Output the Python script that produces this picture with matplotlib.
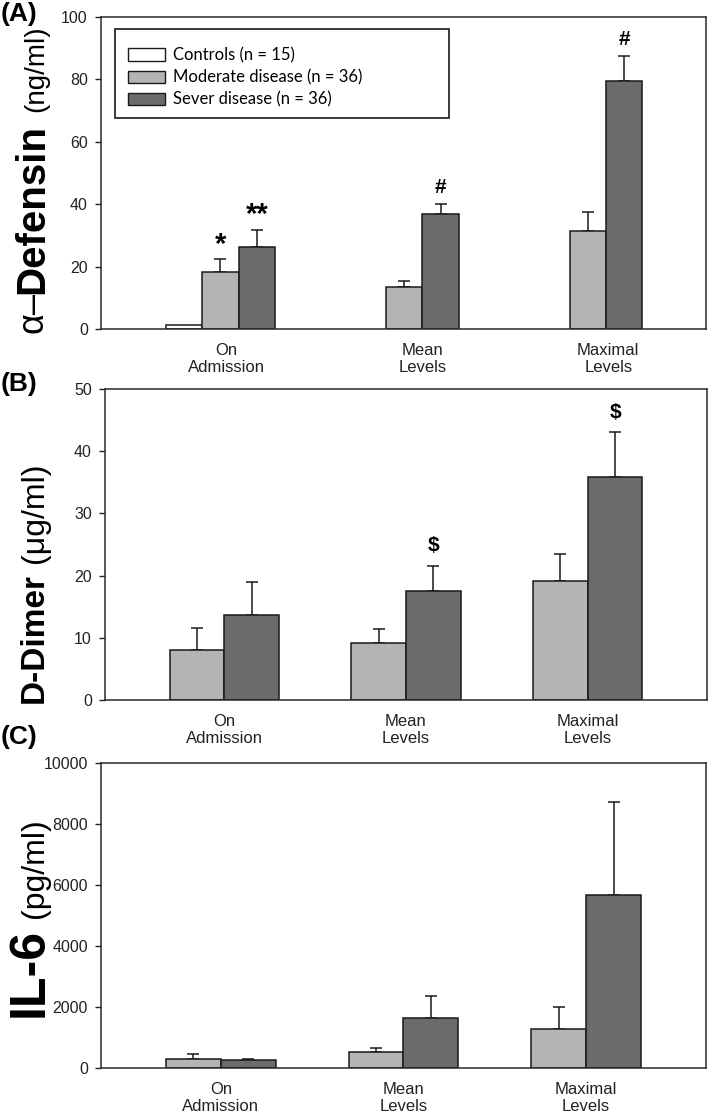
import numpy as np
import matplotlib
matplotlib.use("Agg")
import matplotlib.pyplot as plt
from matplotlib.patches import Patch, Rectangle

# ── data ───────────────────────────────────────────────────────────
GROUPS = ["On\nAdmission", "Mean\nLevels", "Maximal\nLevels"]
SERIES = ["Controls (n = 15)", "Moderate disease (n = 36)", "Sever disease (n = 36)"]

# (A) alpha-defensin, ng/ml
defensin_ctrl = [1.2, np.nan, np.nan]
defensin_mod = [18.2, 13.4, 31.4]
defensin_mod_err = [4.2, 2.1, 6.1]
defensin_sev = [26.3, 36.8, 79.4]
defensin_sev_err = [5.5, 3.2, 8.0]

# (B) D-dimer, ug/ml
ddimer_mod = [8.0, 9.1, 19.1]
ddimer_mod_err = [3.6, 2.3, 4.4]
ddimer_sev = [13.6, 17.6, 35.9]
ddimer_sev_err = [5.4, 4.0, 7.2]

# (C) IL-6, pg/ml
il6_mod = [295, 510, 1275]
il6_mod_err = [175, 155, 720]
il6_sev = [250, 1635, 5670]
il6_sev_err = [45, 730, 3065]

# significance marks: (group, series, y, symbol)
defensin_marks = [(0, 1, 27.0, "*"), (0, 2, 36.6, "**"), (1, 2, 45.3, "#"), (2, 2, 92.9, "#")]
ddimer_marks = [(1, 2, 24.8, "$"), (2, 2, 46.3, "$")]

COLORS = ["white", "#b4b4b4", "#6b6b6b"]
EDGE = "#1a1a1a"
W, H = 709, 1117

plt.rcParams["font.family"] = ["Liberation Sans", "DejaVu Sans"]


def px_axes(fig, left, top, right, bottom):
    return fig.add_axes([left / W, 1 - bottom / H, (right - left) / W, (bottom - top) / H])


def style(ax, ymax, step, tick_pos):
    ax.set_ylim(0, ymax)
    ax.set_yticks(np.arange(0, ymax + step / 2, step))
    ax.set_xticks(tick_pos)
    ax.set_xticklabels(GROUPS, fontsize=12, linespacing=1.15, color="#222222")
    ax.tick_params(axis="x", length=0, pad=10)
    ax.tick_params(axis="y", direction="out", length=4, width=1.0, pad=5.5,
                   labelsize=11.5, colors="#222222")
    for s in ax.spines.values():
        s.set_linewidth(1.1)
        s.set_color("#2a2a2a")


def bars(ax, x, vals, errs, color, width):
    ax.bar(x, vals, width=width, color=color, edgecolor=EDGE, linewidth=1.1, zorder=2)
    if errs is not None:
        ax.errorbar(x, vals, yerr=[np.zeros(len(vals)), errs], fmt="none", ecolor=EDGE,
                    elinewidth=1.1, capsize=4, capthick=1.1, zorder=1)


def ylabel(fig, x, pieces):
    # pieces: (y_start_px, text, size, weight)
    for y0, txt, size, weight in pieces:
        fig.text(x / W, 1 - y0 / H, txt, rotation=90, rotation_mode="anchor",
                 ha="left", va="baseline", fontsize=size, fontweight=weight,
                 family=["Liberation Sans", "DejaVu Sans"])


fig = plt.figure(figsize=(W / 100, H / 100), dpi=100)
idx = np.arange(len(GROUPS))

# ── (A) ─────────────────────────────────────────────────────────────
axA = px_axes(fig, 101, 17, 706, 329)
bw_a = 0.1975
axA.set_xlim(-0.650, 2.642)
bars(axA, idx - bw_a, defensin_ctrl, None, COLORS[0], bw_a)
bars(axA, idx, defensin_mod, defensin_mod_err, COLORS[1], bw_a)
bars(axA, idx + bw_a, defensin_sev, defensin_sev_err, COLORS[2], bw_a)
style(axA, 100, 20, [0.03, 1.10, 2.11])
for g, s, y, sym in defensin_marks:
    axA.text(g + (s - 1) * bw_a, y, sym, ha="center", va="center",
             fontsize=21 if sym.startswith("*") else 15, fontweight="bold")

handles = [Patch(facecolor=c, edgecolor=EDGE, linewidth=1.0) for c in COLORS]
axA.legend(handles, SERIES, loc="upper left", bbox_to_anchor=(0.0446, 0.903),
           frameon=False, borderpad=0, borderaxespad=0, handlelength=2.2,
           handleheight=0.75, handletextpad=0.5, labelspacing=0.36,
           prop={"family": "Lato", "size": 12})
axA.add_patch(Rectangle((0.0231, 0.676), 0.552, 0.2855, transform=axA.transAxes,
                        fill=False, edgecolor=EDGE, linewidth=1.2, zorder=3))

# ── (B) ─────────────────────────────────────────────────────────────
bw = 0.301
axB = px_axes(fig, 105, 389, 707, 700)
axB.set_xlim(-0.656, 2.656)
bars(axB, idx - bw / 2, ddimer_mod, ddimer_mod_err, COLORS[1], bw)
bars(axB, idx + bw / 2, ddimer_sev, ddimer_sev_err, COLORS[2], bw)
style(axB, 50, 10, idx)
for g, s, y, sym in ddimer_marks:
    axB.text(g + (s - 1.5) * bw, y, sym, ha="center", va="center",
             fontsize=15, fontweight="bold")

# ── (C) ─────────────────────────────────────────────────────────────
axC = px_axes(fig, 101, 763, 706, 1068)
axC.set_xlim(-0.656, 2.656)
bars(axC, idx - bw / 2, il6_mod, il6_mod_err, COLORS[1], bw)
bars(axC, idx + bw / 2, il6_sev, il6_sev_err, COLORS[2], bw)
style(axC, 10000, 2000, idx)

# ── y labels and panel letters ──────────────────────────────────────
ylabel(fig, 43, [(333, "α–", 26, "normal"), (294, "Defensin", 29, "bold"),
                 (112, "(ng/ml)", 20, "normal")])
ylabel(fig, 43, [(703, "D-Dimer", 24, "bold"), (563, "(μg/ml)", 23, "normal")])
ylabel(fig, 43, [(1017, "IL-6", 36, "bold"), (918, "(pg/ml)", 23, "normal")])

for y0, lab in [(2, "(A)"), (372, "(B)"), (725, "(C)")]:
    fig.text(1 / W, 1 - y0 / H, lab, ha="left", va="top", fontsize=19, fontweight="bold")

fig.savefig("out.png", dpi=100)
